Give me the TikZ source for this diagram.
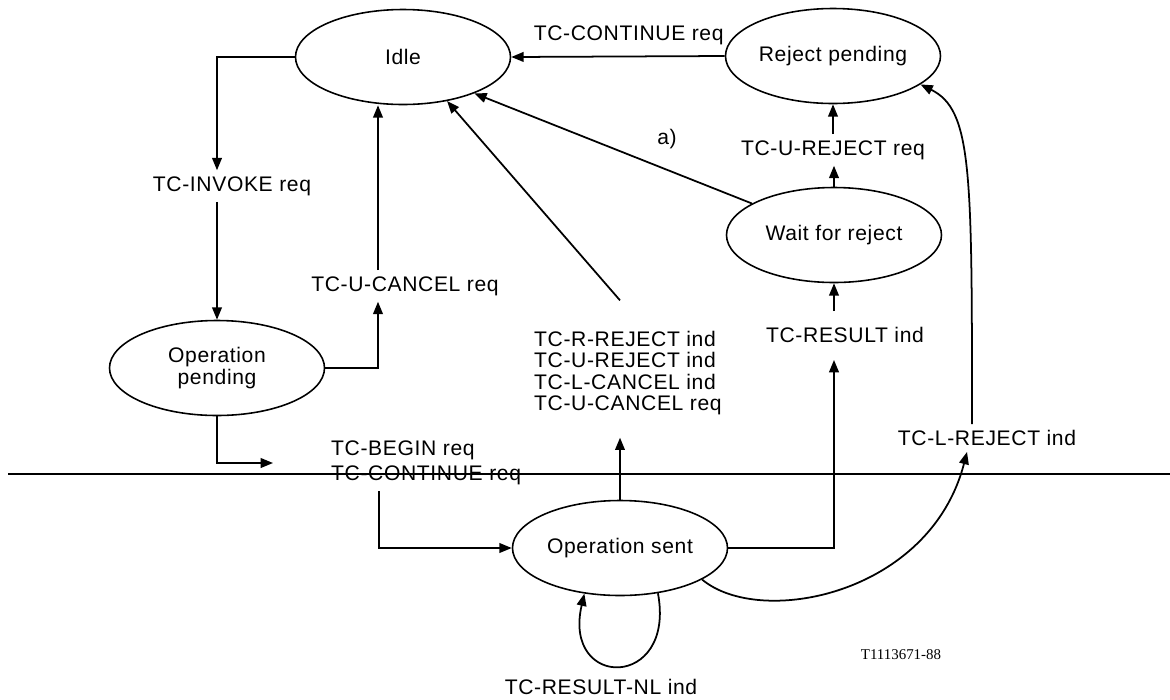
\documentclass[tikz,border=0pt]{standalone}
\usepackage{fontspec}
\setmainfont[LetterSpace=3]{Liberation Sans}
\newfontfamily\codefont{Liberation Serif}
\usetikzlibrary{shapes.geometric,arrows.meta}

\begin{document}
\begin{tikzpicture}[x=0.2mm,y=-0.2mm,
  state/.style={draw, ellipse, line width=0.9pt, minimum width=43mm, minimum height=19mm,
    inner sep=0pt, align=center, font=\fontsize{12}{12.5}\selectfont},
  lbl/.style={font=\fontsize{12}{14.2}\selectfont, align=left},
  trans/.style={line width=1pt, -{Triangle[length=7pt,width=5.5pt]}}]
  \useasboundingbox (0,0) rectangle (1170,699);
  % states
  \node[state] (idle) at (403,57) {Idle};
  \node[state] (rejpend) at (833,56) {Reject pending};
  \node[state] (wait) at (834,235) {Wait for reject};
  \node[state] (opp) at (217,368) {Operation\\pending};
  \node[state] (opsent) at (620,548) {Operation sent};
  % primitives
  \node[lbl] (invoke) at (232,186) {TC-INVOKE req};
  \node[lbl] (ucancel) at (405,286) {TC-U-CANCEL req};
  \node[lbl, anchor=west] (begin) at (325,463) {TC-BEGIN req\\TC-CONTINUE req};
  \node[lbl, anchor=west, font=\fontsize{12}{12}\selectfont] (rejects) at (528,373)
    {TC-R-REJECT ind\\TC-U-REJECT ind\\TC-L-CANCEL ind\\TC-U-CANCEL req};
  \node[lbl] (result) at (845,335) {TC-RESULT ind};
  \node[lbl] (ureject) at (833,150) {TC-U-REJECT req};
  \node[lbl] (lreject) at (987,438) {TC-L-REJECT ind};
  \node[lbl] (resnl) at (601,687) {TC-RESULT-NL ind};
  \node[lbl] (note) at (667,139) {a)};
  \node[font=\codefont\fontsize{8.5}{10}\selectfont] (code) at (901,655) {T1113671-88};
  \coordinate (beginarr) at (273,463);
  % divider
  \coordinate (divl) at (8,474);
  \coordinate (divr) at (1170,474);
  \draw[line width=0.6pt] (divl) -- (divr);
  % transitions
  \draw[trans] (idle.west) -| (invoke.north -| opp.north);
  \draw[trans] (invoke.south -| opp.north) -- (opp.north);
  \draw[trans] (opp.east) -| ([xshift=-5.4mm]ucancel.south);
  \draw[trans] ([xshift=-5.4mm]ucancel.north) -- ([xshift=-5.4mm]ucancel.north |- idle.south);
  \draw[trans] (opp.south) |- (beginarr);
  \draw[trans] ([xshift=10.8mm]begin.south west) |- (opsent.west);
  \draw[trans, shorten >=3.4mm] (opsent.north) -- (opsent.north |- rejects.south);
  \draw[trans] ([yshift=5mm]opsent.north |- rejects.north) -- (idle.-45);
  \draw[trans] (wait.159) -- (idle.-27);
  \draw[trans, shorten >=2.2mm] (opsent.east) -| (result.south -| wait.south);
  \draw[trans, shorten <=2mm] (result.north -| wait.south) -- (wait.south);
  \draw[trans] (wait.north) -- (wait.north |- ureject.south);
  \draw[trans] (ureject.north -| rejpend.south) -- (rejpend.south);
  \draw[trans] (rejpend.west) -- node[lbl, above=1mm, pos=0.45] (cont) {TC-CONTINUE req} (idle.east);
  \draw[trans] (opsent.-21) .. controls (760,628) and (930,595) .. ([xshift=-4mm]lreject.south);
  \draw[trans] ([xshift=-3mm]lreject.north) .. controls (972,170) and (972,110) .. (rejpend.-18);
  \draw[trans] (opsent.-50) .. controls (676,690) and (562,690) .. (opsent.-128);
\end{tikzpicture}
\end{document}
